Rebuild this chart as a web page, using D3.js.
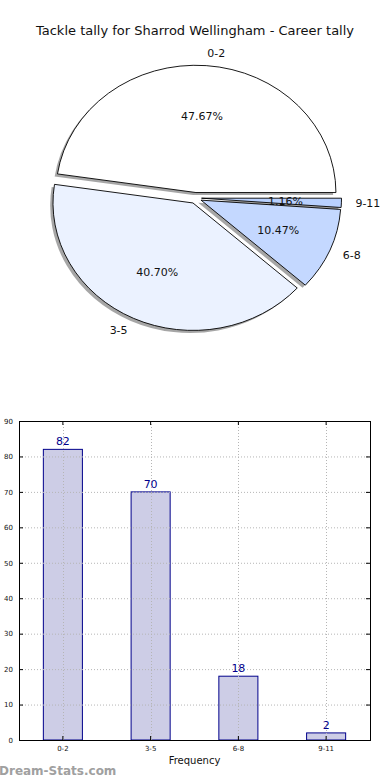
<!DOCTYPE html>
<html>
<head>
<meta charset="utf-8">
<script src="https://cdn.jsdelivr.net/npm/d3@7"></script>
<style>
 body{margin:0;background:#fff;}
 svg{display:block;font-family:"DejaVu Sans",sans-serif;}
</style>
</head>
<body>
<svg id="chart" width="390" height="780"></svg>
<script>
// data
var categories = ['0-2','3-5','6-8','9-11'];
var counts = [82,70,18,2];
var sliceColors = ['#ffffff','#ebf2ff','#c4d8ff','#b9d1ff'];
var yTicks = [0,10,20,30,40,50,60,70,80,90];

var svg = d3.select('#chart');

svg.append('text')
   .attr('x',195).attr('y',35)
   .attr('text-anchor','middle')
   .attr('font-size',13)
   .attr('fill','#111')
   .text('Tackle tally for Sharrod Wellingham - Career tally');

/**
 * Pie (matplotlib style: start at 3 o'clock, counter clockwise, exploded)
 */
var cx = 195.5, cy = 198, rx = 140, ry = 127.5;
var explode = 0.043;
var total = d3.sum(counts);

var arc = d3.arc().innerRadius(0).outerRadius(1);

var pieG = svg.append('g').attr('transform','translate('+cx+','+cy+')');

var cum = 0;
var slices = counts.map(function(v,i){
    var t1 = cum/total*2*Math.PI;
    cum += v;
    var t2 = cum/total*2*Math.PI;
    return {i:i, value:v, t1:t1, t2:t2, mid:(t1+t2)/2};
});

slices.forEach(function(s){
    var dx = explode*Math.cos(s.mid)*rx;
    var dy = -explode*Math.sin(s.mid)*ry;
    var a = {startAngle: Math.PI/2 - s.t2, endAngle: Math.PI/2 - s.t1};
    // shadow
    pieG.append('path')
        .attr('d',arc(a))
        .attr('transform','translate('+(dx-0.02*rx)+','+(dy+0.02*ry)+') scale('+rx+','+ry+')')
        .attr('fill','rgba(77,77,77,0.5)')
        .attr('stroke','none');
});
slices.forEach(function(s){
    var dx = explode*Math.cos(s.mid)*rx;
    var dy = -explode*Math.sin(s.mid)*ry;
    var a = {startAngle: Math.PI/2 - s.t2, endAngle: Math.PI/2 - s.t1};
    pieG.append('path')
        .attr('d',arc(a))
        .attr('transform','translate('+dx+','+dy+') scale('+rx+','+ry+')')
        .attr('fill',sliceColors[s.i])
        .attr('stroke','#000')
        .attr('stroke-width',0.9)
        .attr('vector-effect','non-scaling-stroke');

    var c = Math.cos(s.mid), sn = Math.sin(s.mid);
    // label
    pieG.append('text')
        .attr('x',dx+1.1*rx*c)
        .attr('y',dy-1.1*ry*sn)
        .attr('dy','0.35em')
        .attr('text-anchor',c>0?'start':'end')
        .attr('font-size',11)
        .attr('fill','#111')
        .text(categories[s.i]);
    // percent
    pieG.append('text')
        .attr('x',dx+0.6*rx*c)
        .attr('y',dy-0.6*ry*sn)
        .attr('dy','0.35em')
        .attr('text-anchor','middle')
        .attr('font-size',11)
        .attr('fill','#111')
        .text((s.value/total*100).toFixed(2)+'%');
});

/**
 * Bar chart
 */
var bx0 = 19, bx1 = 370, by0 = 421, by1 = 740;

var x = d3.scaleBand()
          .domain(categories)
          .range([bx0,bx1])
          .paddingInner(0.555)
          .paddingOuter(0.2775);

var y = d3.scaleLinear().domain([0,90]).range([by1,by0]);

var bg = svg.append('g');

bg.selectAll('rect.bar').data(counts).enter()
  .append('rect')
  .attr('class','bar')
  .attr('x',function(d,i){ return x(categories[i]); })
  .attr('y',function(d){ return y(d); })
  .attr('width',x.bandwidth())
  .attr('height',function(d){ return y(0)-y(d); })
  .attr('fill','#cdcde6')
  .attr('stroke','#00008b')
  .attr('stroke-width',1);

// grid (drawn over bars)
bg.selectAll('line.hg').data(yTicks.slice(1,-1)).enter()
  .append('line')
  .attr('x1',bx0).attr('x2',bx1)
  .attr('y1',function(d){return y(d)+0.5;})
  .attr('y2',function(d){return y(d)+0.5;})
  .attr('stroke','#b5b5b5').attr('stroke-width',1)
  .attr('stroke-dasharray','1,2');

bg.selectAll('line.vg').data(categories).enter()
  .append('line')
  .attr('x1',function(d){return Math.round(x(d)+x.bandwidth()/2)+0.5;})
  .attr('x2',function(d){return Math.round(x(d)+x.bandwidth()/2)+0.5;})
  .attr('y1',by0).attr('y2',by1)
  .attr('stroke','#b5b5b5').attr('stroke-width',1)
  .attr('stroke-dasharray','1,2');

// axes
var yAxis = d3.axisLeft(y).tickValues(yTicks).tickSize(-4).tickPadding(6);
bg.append('g')
  .attr('transform','translate('+bx0+',0)')
  .call(yAxis)
  .call(function(g){ g.select('.domain').remove(); })
  .selectAll('text').attr('font-size',7).attr('font-family','"DejaVu Sans",sans-serif').attr('fill','#111');

bg.append('g')
  .attr('transform','translate('+bx1+',0)')
  .call(d3.axisRight(y).tickValues(yTicks).tickSize(-4).tickFormat(''))
  .call(function(g){ g.select('.domain').remove(); });

var xAxis = d3.axisBottom(x).tickSize(-4).tickPadding(6);
bg.append('g')
  .attr('transform','translate(0,'+by1+')')
  .call(xAxis)
  .call(function(g){ g.select('.domain').remove(); })
  .selectAll('text').attr('font-size',7).attr('font-family','"DejaVu Sans",sans-serif').attr('fill','#111');

bg.append('g')
  .attr('transform','translate(0,'+by0+')')
  .call(d3.axisTop(x).tickSize(-4).tickFormat(''))
  .call(function(g){ g.select('.domain').remove(); });

bg.append('rect')
  .attr('x',bx0+0.5).attr('y',by0+0.5)
  .attr('width',bx1-bx0).attr('height',by1-by0)
  .attr('fill','none').attr('stroke','#000').attr('stroke-width',1);

// value labels
bg.selectAll('text.val').data(counts).enter()
  .append('text')
  .attr('x',function(d,i){ return x(categories[i])+x.bandwidth()/2; })
  .attr('y',function(d){ return y(d)-4; })
  .attr('text-anchor','middle')
  .attr('font-size',11)
  .attr('fill','#00008b')
  .text(function(d){ return d; });

svg.append('text')
   .attr('x',(bx0+bx1)/2).attr('y',764)
   .attr('text-anchor','middle')
   .attr('font-size',10)
   .attr('fill','#111')
   .text('Frequency');

svg.append('text')
   .attr('x',-1).attr('y',775)
   .attr('font-size',12)
   .attr('font-weight','bold')
   .attr('fill','#a0a0a0')
   .text('Dream-Stats.com');
</script>
</body>
</html>
